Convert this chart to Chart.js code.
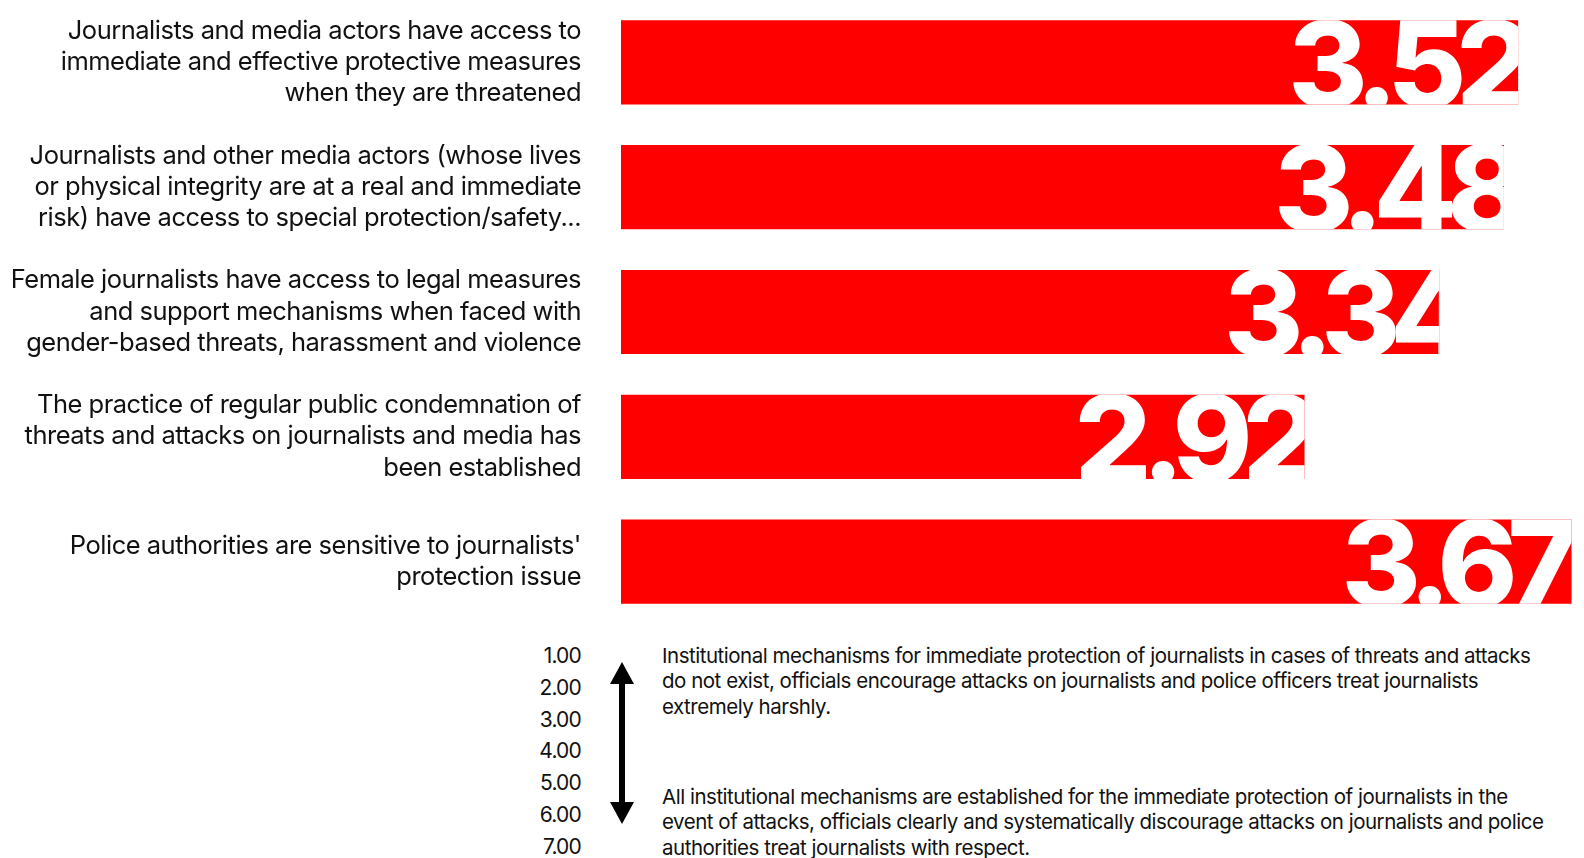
<!DOCTYPE html>
<html>
<head>
<meta charset="utf-8">
<script src="https://cdn.jsdelivr.net/npm/chart.js@4/dist/chart.umd.min.js"></script>
<style>
  html, body { margin:0; padding:0; background:#fff; }
  body { width:1584px; height:858px; overflow:hidden; font-family: Inter, "Noto Sans", sans-serif; color:#111; }
  #wrap { position:relative; width:1584px; height:624px; }
  #key { position:relative; height:234px; }
  #scale { position:absolute; left:480px; top:16px; width:101px; text-align:right; font-size:21px; line-height:31.8px; letter-spacing:-0.8px; }
  #arrow { position:absolute; left:610px; top:662px; }
  .note { position:absolute; left:662px; font-size:20.5px; line-height:25.3px; letter-spacing:-0.48px; white-space:nowrap; }
</style>
</head>
<body>
<div id="wrap"><canvas id="c"></canvas></div>
<div id="key">
  <div id="scale"></div>
  <div class="note" id="noteTop" style="top:19px"></div>
  <div class="note" id="noteBottom" style="top:160px"></div>
</div>
<svg id="arrow" width="24" height="162" viewBox="0 0 24 162">
  <polygon points="12,0 24,22 15,22 15,140 24,140 12,162 0,140 9,140 9,22 0,22" fill="#000"/>
</svg>
<script>
const categories = [
  ['Journalists and media actors have access to', 'immediate and effective protective measures', 'when they are threatened'],
  ['Journalists and other media actors (whose lives', 'or physical integrity are at a real and immediate', 'risk) have access to special protection/safety...'],
  ['Female journalists have access to legal measures', 'and support mechanisms when faced with', 'gender-based threats, harassment and violence'],
  ['The practice of regular public condemnation of', 'threats and attacks on journalists and media has', 'been established'],
  ["Police authorities are sensitive to journalists'", 'protection issue']
];
// printed scores, and bar lengths (3.34 is drawn a bit short)
const scores = [3.52, 3.48, 3.34, 2.92, 3.67];
const barValues = [3.52, 3.48, 3.30, 2.92, 3.67];
const scaleTicks = ['1.00', '2.00', '3.00', '4.00', '5.00', '6.00', '7.00'];
const noteTop = ['Institutional mechanisms for immediate protection of journalists in cases of threats and attacks',
  'do not exist, officials encourage attacks on journalists and police officers treat journalists',
  'extremely harshly.'];
const noteBottom = ['All institutional mechanisms are established for the immediate protection of journalists in the',
  'event of attacks, officials clearly and systematically discourage attacks on journalists and police',
  'authorities treat journalists with respect.'];

document.getElementById('scale').innerHTML = scaleTicks.join('<br>');
document.getElementById('noteTop').innerHTML = noteTop.join('<br>');
document.getElementById('noteBottom').innerHTML = noteBottom.join('<br>');

// tight tracking for tick labels, reset before bars are drawn
const tracking = {
  id: 'tracking',
  beforeDraw(chart) { chart.ctx.letterSpacing = '-0.5px'; },
  beforeDatasetsDraw(chart) { chart.ctx.letterSpacing = '0px'; }
};

// big white numbers cut to the bar
const bigValues = {
  id: 'bigValues',
  afterDatasetsDraw(chart) {
    const ctx = chart.ctx;
    const xScale = chart.scales.x;
    const meta = chart.getDatasetMeta(0);
    meta.data.forEach((bar, i) => {
      const p = bar.getProps(['x', 'y', 'base', 'height'], true);
      const top = p.y - p.height / 2;
      const anchor = xScale.getPixelForValue(scores[i]) - 230;
      ctx.save();
      ctx.beginPath();
      ctx.rect(p.base, top, p.x - p.base, p.height);
      ctx.clip();
      ctx.fillStyle = '#fff';
      ctx.font = '800 121px Inter';
      ctx.letterSpacing = '-10px';
      ctx.textAlign = 'left';
      ctx.textBaseline = 'alphabetic';
      ctx.fillText(scores[i].toFixed(2), anchor, top + p.height + 3);
      ctx.restore();
    });
  }
};

new Chart(document.getElementById('c'), {
  type: 'bar',
  data: {
    labels: categories,
    datasets: [{ data: barValues, backgroundColor: '#ff0000', borderWidth: 0, barPercentage: 0.675, categoryPercentage: 1 }]
  },
  options: {
    indexAxis: 'y',
    responsive: true, maintainAspectRatio: false,
    animation: false,
    layout: { padding: 0 },
    plugins: { legend: { display: false }, tooltip: { enabled: false } },
    scales: {
      x: { display: false, min: 1, max: 3.705 },
      y: {
        grid: { display: false, drawTicks: false },
        border: { display: false },
        ticks: { color: '#111', padding: 40, font: { family: 'Inter', size: 25.5, lineHeight: 1.23 } },
        afterFit(scale) { scale.width = 621; scale.paddingTop = 0; scale.paddingBottom = 0; }
      }
    }
  },
  plugins: [tracking, bigValues]
});
</script>
</body>
</html>
